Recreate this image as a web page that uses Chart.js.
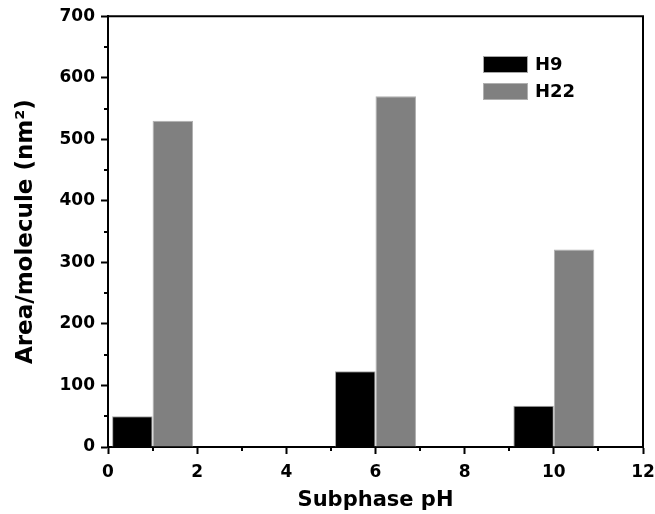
<!DOCTYPE html>
<html>
<head>
<meta charset="utf-8">
<title>Area/molecule vs subphase pH</title>
<script src="https://cdn.jsdelivr.net/npm/chart.js@4/dist/chart.umd.min.js"></script>
<style>
  html, body { margin: 0; padding: 0; background: #fff; }
  #wrap { width: 655px; height: 514px; }
</style>
</head>
<body>
<div id="wrap"><canvas id="grafico" width="655" height="514"></canvas></div>
<script>
// Datos
const ph = [1, 6, 10];
const areaH9 = [50, 123, 67];
const areaH22 = [530, 570, 321];
const xMinorTicks = [1, 3, 5, 7, 9, 11];
const yMinorTicks = [50, 150, 250, 350, 450, 550, 650];

(function(){
  'use strict';

  Chart.defaults.font.family = "'DejaVu Sans', sans-serif";
  Chart.defaults.font.weight = 'bold';
  Chart.defaults.color = '#000';

  const toPoints = vals => ph.map((x, i) => ({ x: x, y: vals[i] }));

  // Marco superior/derecho y ticks menores
  const marco = {
    id: 'marco',
    afterDraw(chart) {
      const { ctx, chartArea: a, scales } = chart;
      ctx.save();
      ctx.strokeStyle = '#000';
      ctx.lineWidth = 2;
      ctx.beginPath();
      ctx.moveTo(a.left - 1, a.top);
      ctx.lineTo(a.right, a.top);
      ctx.lineTo(a.right, a.bottom + 1);
      ctx.stroke();
      ctx.beginPath();
      xMinorTicks.forEach(v => {
        const px = Math.round(scales.x.getPixelForValue(v));
        ctx.moveTo(px, a.bottom);
        ctx.lineTo(px, a.bottom + 4);
      });
      yMinorTicks.forEach(v => {
        const py = Math.round(scales.y.getPixelForValue(v));
        ctx.moveTo(a.left, py);
        ctx.lineTo(a.left - 4, py);
      });
      ctx.stroke();
      ctx.restore();
    }
  };

  // Leyenda dentro del area del grafico
  const leyenda = {
    id: 'leyenda',
    afterDraw(chart, args, opts) {
      const { ctx } = chart;
      ctx.save();
      ctx.font = 'bold 18px "DejaVu Sans", sans-serif';
      ctx.textBaseline = 'middle';
      ctx.textAlign = 'left';
      chart.data.datasets.forEach((ds, i) => {
        const y = opts.top + i * opts.rowHeight;
        ctx.fillStyle = ds.backgroundColor;
        ctx.fillRect(opts.left, y, opts.boxWidth, opts.boxHeight);
        ctx.strokeStyle = ds.borderColor;
        ctx.lineWidth = 1;
        ctx.strokeRect(opts.left + 0.5, y + 0.5, opts.boxWidth - 1, opts.boxHeight - 1);
        ctx.fillStyle = '#000';
        ctx.fillText(ds.label, opts.left + opts.boxWidth + 7, y + opts.boxHeight / 2 + 1);
      });
      ctx.restore();
    }
  };

  new Chart(document.getElementById('grafico'), {
    type: 'bar',
    data: {
      datasets: [{
        label: 'H9',
        data: toPoints(areaH9),
        backgroundColor: '#000000',
        borderColor: '#a6a6a6',
        borderWidth: 1
      }, {
        label: 'H22',
        data: toPoints(areaH22),
        backgroundColor: '#808080',
        borderColor: '#b0b0b0',
        borderWidth: 1
      }]
    },
    options: {
      responsive: false,
      animation: false,
      devicePixelRatio: 1,
      categoryPercentage: 0.908,
      barPercentage: 1,
      layout: { padding: { top: 16, right: 0, left: 0, bottom: 0 } },
      plugins: {
        legend: { display: false },
        tooltip: { enabled: false },
        leyenda: { left: 483, top: 56, rowHeight: 27, boxWidth: 45, boxHeight: 17 }
      },
      scales: {
        x: {
          type: 'linear',
          min: 0,
          max: 12,
          offset: false,
          afterFit: s => { s.height = 67; s.paddingRight = 12; s.paddingLeft = 0; },
          border: { color: '#000', width: 2 },
          grid: { offset: false, drawOnChartArea: false, tickLength: 7, tickWidth: 2, tickColor: '#000' },
          ticks: { stepSize: 2, padding: 8, font: { size: 17, weight: 'bold' }, maxRotation: 0 },
          title: { display: true, text: 'Subphase pH', font: { size: 21, weight: 'bold' }, padding: { top: 0, bottom: 1 } }
        },
        y: {
          min: 0,
          max: 700,
          afterFit: s => { s.width = 108; },
          border: { color: '#000', width: 2 },
          grid: { drawOnChartArea: false, tickLength: 7, tickWidth: 2, tickColor: '#000' },
          ticks: { stepSize: 100, padding: 6, font: { size: 17, weight: 'bold' } },
          title: { display: true, text: 'Area/molecule (nm²)', font: { size: 23, weight: 'bold' }, padding: { top: 12, bottom: 0 } }
        }
      }
    },
    plugins: [marco, leyenda]
  });
})();
</script>
</body>
</html>
